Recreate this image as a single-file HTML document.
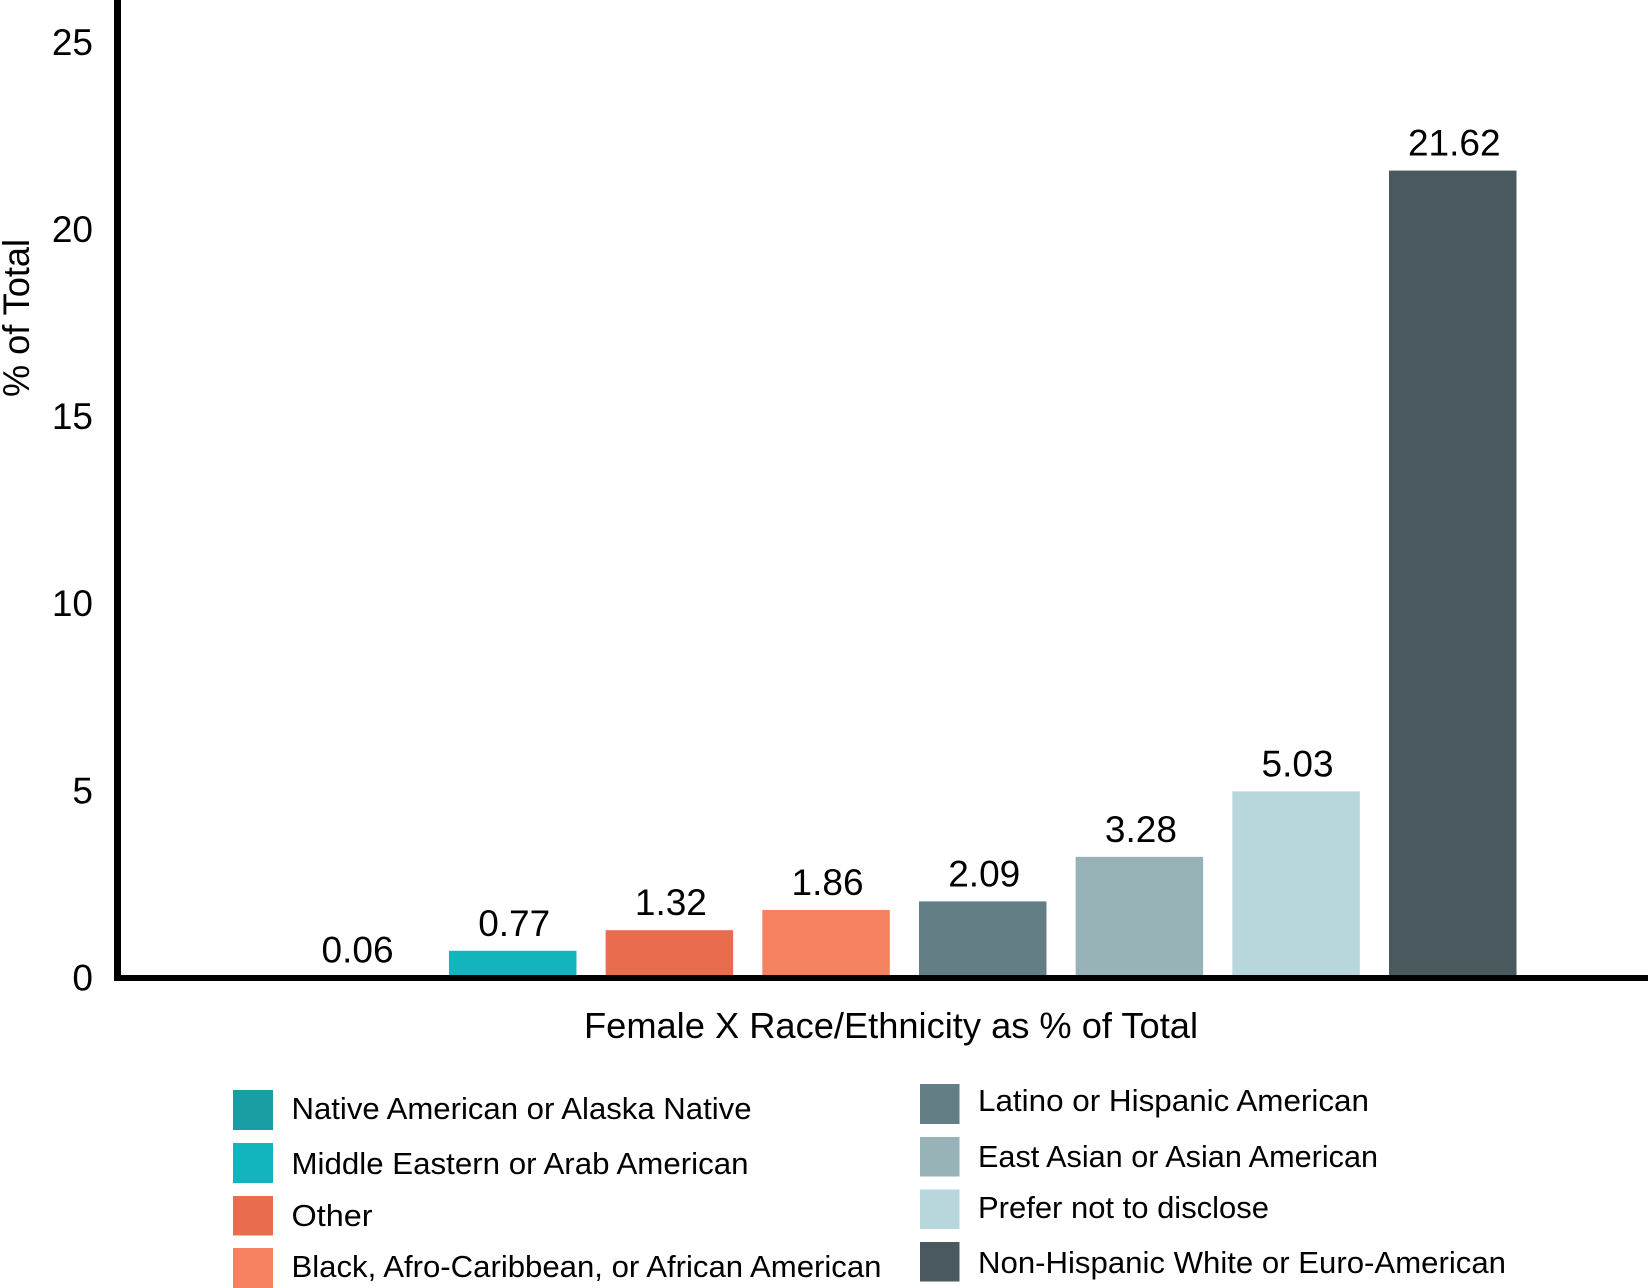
<!DOCTYPE html>
<html lang="en">
<head>
<meta charset="utf-8">
<title>Female X Race/Ethnicity as % of Total</title>
<style>
html,body{margin:0;padding:0;background:#fff;width:1648px;height:1288px;overflow:hidden}
svg{display:block}
text{font-family:"Liberation Sans",sans-serif;fill:#000}
.legend-text{font-size:31px}
</style>
</head>
<body>
<svg id="chart" xmlns="http://www.w3.org/2000/svg" width="1648" height="1288" viewBox="0 0 1648 1288">
  <rect x="0" y="0" width="1648" height="1288" fill="#ffffff"/>
  <g id="ticks"></g>
  <g id="bars"></g>
  <g id="labels"></g>
  <rect x="114" y="0" width="7" height="981" fill="#000"/>
  <rect x="114" y="975" width="1534" height="6" fill="#000"/>
  <text transform="translate(29,397) rotate(-90)" font-size="37" textLength="158" lengthAdjust="spacingAndGlyphs">% of Total</text>
  <text x="584" y="1038" font-size="36" textLength="614" lengthAdjust="spacingAndGlyphs">Female X Race/Ethnicity as % of Total</text>

  <g>
    <g>
      <rect x="233" y="1090" width="40" height="40" fill="#1b9ea3"/>
      <text class="legend-text" x="291.5" y="1119" textLength="460" lengthAdjust="spacingAndGlyphs">Native American or Alaska Native</text>
    </g>
    <g>
      <rect x="233" y="1143" width="40" height="40" fill="#12b5bd"/>
      <text class="legend-text" x="291.5" y="1174" textLength="457" lengthAdjust="spacingAndGlyphs">Middle Eastern or Arab American</text>
    </g>
    <g>
      <rect x="233" y="1196" width="40" height="39.5" fill="#e96c4f"/>
      <text class="legend-text" x="291.5" y="1226" textLength="81" lengthAdjust="spacingAndGlyphs">Other</text>
    </g>
    <g>
      <rect x="233" y="1248" width="40" height="40" fill="#f4815f"/>
      <text class="legend-text" x="291.5" y="1277" textLength="590" lengthAdjust="spacingAndGlyphs">Black, Afro-Caribbean, or African American</text>
    </g>
    <g>
      <rect x="920" y="1084" width="39.5" height="40" fill="#637f85"/>
      <text class="legend-text" x="978" y="1111" textLength="391" lengthAdjust="spacingAndGlyphs">Latino or Hispanic American</text>
    </g>
    <g>
      <rect x="920" y="1137" width="39.5" height="39.5" fill="#97b3b8"/>
      <text class="legend-text" x="978" y="1167" textLength="400" lengthAdjust="spacingAndGlyphs">East Asian or Asian American</text>
    </g>
    <g>
      <rect x="920" y="1189.5" width="39.5" height="39.5" fill="#b8d7dc"/>
      <text class="legend-text" x="978" y="1218" textLength="291" lengthAdjust="spacingAndGlyphs">Prefer not to disclose</text>
    </g>
    <g>
      <rect x="920" y="1242" width="39.5" height="39.5" fill="#49595d"/>
      <text class="legend-text" x="978" y="1273" textLength="528" lengthAdjust="spacingAndGlyphs">Non-Hispanic White or Euro-American</text>
    </g>
  </g>
</svg>
<script>
const categories = ["native-american", "middle-eastern", "other", "black", "latino", "east-asian", "prefer-not", "non-hispanic-white"];
const values = [0.06, 0.77, 1.32, 1.86, 2.09, 3.28, 5.03, 21.62];
const valueLabels = ["0.06", "0.77", "1.32", "1.86", "2.09", "3.28", "5.03", "21.62"];
const barColors = ["#1b9ea3", "#12b5bd", "#e96c4f", "#f4815f", "#637f85", "#97b3b8", "#b8d7dc", "#49595d"];
const tickValues = [0, 5, 10, 15, 20, 25];
const tickLabels = ["0", "5", "10", "15", "20", "25"];

const NS = "http://www.w3.org/2000/svg";
function yScale(v) { return 979.6 - 37.42 * v; }
function xBand(i) { return 292.3 + 156.67 * i; }
const bandWidth = 127.5;

const ticksG = document.getElementById("ticks");
tickValues.forEach(function (v, i) {
  const t = document.createElementNS(NS, "text");
  t.setAttribute("x", 93);
  t.setAttribute("y", yScale(v) + 10.8);
  t.setAttribute("text-anchor", "end");
  t.setAttribute("font-size", "37");
  t.textContent = tickLabels[i];
  
  
  ticksG.appendChild(t);
});

const barsG = document.getElementById("bars");
const labelsG = document.getElementById("labels");
categories.forEach(function (c, i) {
  const top = yScale(values[i]);
  const r = document.createElementNS(NS, "rect");
  r.setAttribute("x", xBand(i));
  r.setAttribute("y", top);
  r.setAttribute("width", bandWidth);
  r.setAttribute("height", Math.max(0, yScale(0) - top));
  r.setAttribute("fill", barColors[i]);
  
  
  barsG.appendChild(r);

  const t = document.createElementNS(NS, "text");
  t.setAttribute("x", xBand(i) + bandWidth / 2 + 1.5);
  t.setAttribute("y", top - 15);
  t.setAttribute("text-anchor", "middle");
  t.setAttribute("font-size", "37");
  t.textContent = valueLabels[i];
  
  
  labelsG.appendChild(t);
});
</script>
</body>
</html>
